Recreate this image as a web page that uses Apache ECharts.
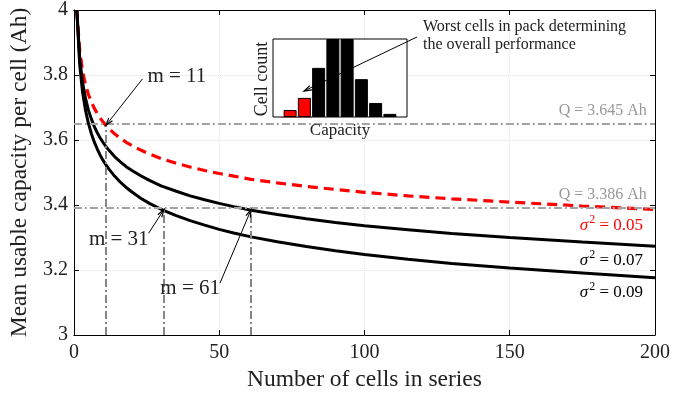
<!DOCTYPE html>
<html>
<head>
<meta charset="utf-8">
<script src="https://cdn.jsdelivr.net/npm/echarts@6/dist/echarts.min.js"></script>
<style>
html, body { margin: 0; padding: 0; background: #fff; }
#main { width: 695px; height: 398px; }
</style>
</head>
<body>
<div id="main"></div>
<script>
// number of cells in series (x)
var cellsN = [1, 2, 3, 4, 5, 6, 7, 8, 9, 10, 11, 12, 14, 16, 18, 20, 23, 26, 30, 31, 35, 40, 45, 50, 55, 61, 70, 80, 90, 100, 115, 130, 150, 175, 200];
// mean usable capacity per cell (Ah), one list per variance
var cap005 = [4.000, 3.874, 3.811, 3.770, 3.740, 3.717, 3.698, 3.682, 3.668, 3.656, 3.645, 3.636, 3.619, 3.605, 3.593, 3.583, 3.569, 3.557, 3.543, 3.540, 3.529, 3.517, 3.506, 3.497, 3.489, 3.479, 3.468, 3.457, 3.448, 3.439, 3.428, 3.419, 3.409, 3.397, 3.386];
var cap007 = [4.000, 3.851, 3.776, 3.728, 3.692, 3.665, 3.642, 3.623, 3.607, 3.593, 3.580, 3.569, 3.549, 3.533, 3.518, 3.506, 3.490, 3.476, 3.459, 3.456, 3.443, 3.428, 3.416, 3.405, 3.395, 3.384, 3.371, 3.358, 3.346, 3.336, 3.324, 3.312, 3.300, 3.286, 3.273];
var cap009 = [4.000, 3.831, 3.746, 3.691, 3.651, 3.620, 3.594, 3.573, 3.554, 3.538, 3.524, 3.511, 3.489, 3.470, 3.454, 3.440, 3.421, 3.405, 3.387, 3.383, 3.368, 3.352, 3.338, 3.325, 3.314, 3.302, 3.287, 3.272, 3.259, 3.248, 3.233, 3.220, 3.206, 3.191, 3.176];
// reference levels and the cell counts where they are reached
var qLevels = [3.645, 3.386];
var mCells = [11, 31, 61];
var mLevels = [3.645, 3.386, 3.386];
// inset histogram
var histBins = [1, 2, 3, 4, 5, 6, 7, 8];
var histCounts = [1.8, 4.9, 12.6, 20, 20, 9.7, 3.6, 0.8];
var worstBins = 2;

var serif = '"Liberation Serif", "Times New Roman", serif';
var txt = '#222';

function pairs(ys) {
    return cellsN.map(function (n, i) { return [n, ys[i]]; });
}

var chart = echarts.init(document.getElementById('main'));

var dashDot = [8, 3, 2, 3];
var refLines = [];
for (var i = 0; i < qLevels.length; i++) {
    refLines.push({ yAxis: qLevels[i], lineStyle: { color: '#a3a3a3', type: dashDot, width: 2 } });
}
for (var j = 0; j < mCells.length; j++) {
    refLines.push([
        { coord: [mCells[j], 3], lineStyle: { color: '#858585', type: dashDot, width: 2 } },
        { coord: [mCells[j], mLevels[j]] }
    ]);
}

var option = {
    animation: false,
    backgroundColor: '#fff',
    grid: [
        { left: 71, right: 40, top: 9, bottom: 63 },
        { left: 273, top: 39, width: 134, height: 78, show: true, backgroundColor: '#fff',
          borderColor: '#000', borderWidth: 1, z: 5 }
    ],
    xAxis: [
        {
            gridIndex: 0, type: 'value', min: 0, max: 200, interval: 50,
            axisLine: { onZero: false, lineStyle: { color: '#000', width: 1 } },
            axisTick: { inside: true, length: 5, lineStyle: { color: '#000' } },
            axisLabel: { color: txt, fontFamily: serif, fontSize: 20, margin: 8 },
            splitLine: { show: true, lineStyle: { color: '#e4e4e4', type: 'dotted' } },
            name: 'Number of cells in series', nameLocation: 'middle', nameGap: 33,
            nameTextStyle: { fontFamily: serif, fontSize: 23.5, color: txt }
        },
        {
            gridIndex: 0, type: 'value', position: 'top', min: 0, max: 200, interval: 50,
            axisLine: { onZero: false, lineStyle: { color: '#000', width: 1 } },
            axisTick: { inside: true, length: 5, lineStyle: { color: '#000' } },
            axisLabel: { show: false }, splitLine: { show: false }
        },
        { gridIndex: 1, type: 'value', min: -0.2, max: 9.2, show: false }
    ],
    yAxis: [
        {
            gridIndex: 0, type: 'value', min: 3, max: 4, interval: 0.2,
            axisLine: { onZero: false, lineStyle: { color: '#000', width: 1 } },
            axisTick: { inside: true, length: 5, lineStyle: { color: '#000' } },
            axisLabel: { color: txt, fontFamily: serif, fontSize: 20, margin: 6 },
            splitLine: { show: true, lineStyle: { color: '#e4e4e4', type: 'dotted' } },
            name: 'Mean usable capacity per cell (Ah)', nameLocation: 'middle', nameGap: 35,
            nameTextStyle: { fontFamily: serif, fontSize: 23.5, color: txt }
        },
        {
            gridIndex: 0, type: 'value', position: 'right', min: 3, max: 4, interval: 0.2,
            axisLine: { onZero: false, lineStyle: { color: '#000', width: 1 } },
            axisTick: { inside: true, length: 5, lineStyle: { color: '#000' } },
            axisLabel: { show: false }, splitLine: { show: false }
        },
        { gridIndex: 1, type: 'value', min: 0, max: 20, show: false }
    ],
    series: [
        {
            name: 's005', type: 'line', data: pairs(cap005), showSymbol: false, z: 4,
            lineStyle: { color: '#ff0000', width: 3.2, type: [10, 6] }
        },
        {
            name: 's007', type: 'line', data: pairs(cap007), showSymbol: false, z: 4,
            lineStyle: { color: '#000', width: 3 }
        },
        {
            name: 's009', type: 'line', data: pairs(cap009), showSymbol: false, z: 4,
            lineStyle: { color: '#000', width: 3 },
            markLine: { silent: true, symbol: ['none', 'none'], label: { show: false }, data: refLines }
        },
        {
            name: 'hist', type: 'bar', xAxisIndex: 2, yAxisIndex: 2, barWidth: 13, z: 10,
            data: histBins.map(function (b, i) {
                return { value: [b, histCounts[i]], itemStyle: { color: i < worstBins ? '#ff0000' : '#000' } };
            }),
            itemStyle: { borderColor: '#000', borderWidth: 1 },
            markArea: {
                silent: true,
                itemStyle: { color: 'rgba(0,0,0,0)', borderColor: '#ff3333', borderWidth: 1 },
                data: [[{ coord: [0.36, 0] }, { coord: [2.53, 5.9] }]]
            }
        }
    ]
};
chart.setOption(option);

function px(p) { return chart.convertToPixel({ gridIndex: 0 }, p); }

// thin line with an open arrowhead at p1
function arrow(p0, p1) {
    var a = Math.atan2(p1[1] - p0[1], p1[0] - p0[0]);
    var len = 8, w = 0.3;
    var h1 = [p1[0] - len * Math.cos(a - w), p1[1] - len * Math.sin(a - w)];
    var h2 = [p1[0] - len * Math.cos(a + w), p1[1] - len * Math.sin(a + w)];
    return [
        { type: 'line', z: 20, shape: { x1: p0[0], y1: p0[1], x2: p1[0], y2: p1[1] }, style: { stroke: '#000', lineWidth: 1 } },
        { type: 'polyline', z: 20, shape: { points: [h1, p1, h2] }, style: { fill: null, stroke: '#000', lineWidth: 1.2 } }
    ];
}

function label(p, text, align, color, size) {
    return {
        type: 'text', z: 20, x: p[0], y: p[1],
        style: { text: text, fill: color || txt, font: (size || 21) + 'px ' + serif,
                 textAlign: align, textVerticalAlign: 'middle', verticalAlign: 'middle' }
    };
}

function sigma(p, val, color) {
    return {
        type: 'text', z: 20, x: p[0], y: p[1],
        style: {
            text: '{i|σ}{s|2}{n| = ' + val + '}', fill: color,
            textAlign: 'right', textVerticalAlign: 'middle', verticalAlign: 'middle',
            rich: {
                i: { font: 'italic 17px ' + serif, fill: color, color: color },
                s: { font: '12px ' + serif, fill: color, color: color, padding: [0, 0, 11, 1] },
                n: { font: '17px ' + serif, fill: color, color: color }
            }
        }
    };
}

var g = [];
g = g.concat(arrow(px([23.6, 3.788]), px([mCells[0], mLevels[0]])));
g = g.concat(arrow(px([25.7, 3.313]), px([mCells[1], mLevels[1]])));
g = g.concat(arrow(px([50.3, 3.160]), px([mCells[2], mLevels[2]])));
g.push(label(px([25.3, 3.794]), 'm = 11', 'left'));
g.push(label(px([25.7, 3.294]), 'm = 31', 'right'));
g.push(label(px([50.3, 3.144]), 'm = 61', 'right'));
g.push(label(px([197.2, 3.690]), 'Q = 3.645 Ah', 'right', '#999', 16));
g.push(label(px([197.2, 3.4325]), 'Q = 3.386 Ah', 'right', '#999', 16));
g.push(sigma(px([195.9, 3.337]), '0.05', '#ff0000'));
g.push(sigma(px([195.9, 3.230]), '0.07', '#000'));
g.push(sigma(px([195.9, 3.132]), '0.09', '#000'));

// inset annotations
g = g.concat(arrow([417, 37], [304, 91]));
g.push({
    type: 'text', z: 20, x: 423, y: 18,
    style: { text: 'Worst cells in pack determining\nthe overall performance', fill: txt,
             font: '16px ' + serif, lineHeight: 18, textAlign: 'left', textVerticalAlign: 'top', verticalAlign: 'top' }
});
g.push({
    type: 'text', z: 20, x: 262, y: 79, rotation: Math.PI / 2,
    style: { text: 'Cell count', fill: txt, font: '18px ' + serif,
             textAlign: 'center', textVerticalAlign: 'middle', verticalAlign: 'middle' }
});
g.push(label([340, 131], 'Capacity', 'center', txt, 17));

chart.setOption({ graphic: g });
</script>
</body>
</html>
